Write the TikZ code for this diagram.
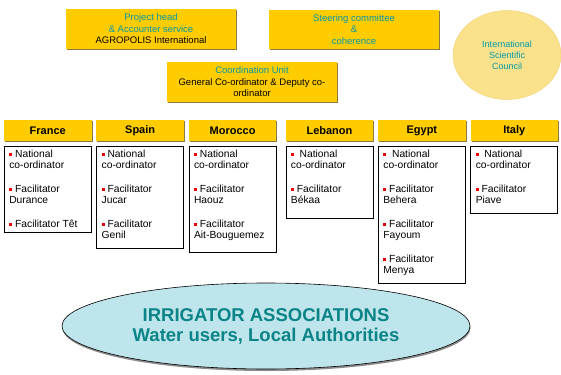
\documentclass[tikz,border=0pt]{standalone}
\usepackage{fontspec}
\setmainfont{Liberation Sans}
\usepackage{xcolor}
\usepackage{tikz}
\usetikzlibrary{
  positioning,
  shapes.geometric,
  shadows
}
\definecolor{irGold}{HTML}{FFCC00}
\definecolor{irShade}{HTML}{8C7A40}
\definecolor{irTeal}{HTML}{0099A8}
\definecolor{irDeep}{HTML}{0A8486}
\definecolor{irSky}{HTML}{BEE5EB}
\definecolor{irCream}{HTML}{FAE28C}
\definecolor{irRim}{HTML}{EFD06A}
\definecolor{irRed}{HTML}{E8000B}
\newcommand{\redbul}{\textcolor{irRed}{\rule[1.5pt]{3pt}{3pt}}\ }
\newcommand{\celltext}[2]{\parbox[t][#1][t]{77pt}{\raggedright #2}}
\tikzset{
  irshadow/.style={drop shadow={shadow xshift=1pt, shadow yshift=-1.5pt, fill=irShade, opacity=1}},
  headbox/.style={
    fill=irGold, irshadow, minimum width=170pt, minimum height=40pt,
    inner sep=1pt, align=center, font=\fontsize{9.5}{11.5}\selectfont
  },
  ctry/.style={
    fill=irGold, irshadow, minimum width=87.5pt, minimum height=21pt,
    inner sep=0pt, font=\fontsize{11}{13}\selectfont\bfseries
  },
  cbox/.style={
    draw=black, line width=0.8pt, fill=white, anchor=north,
    inner xsep=5pt, inner ysep=3pt, font=\fontsize{10.3}{11}\selectfont
  },
  council/.style={
    ellipse, fill=irCream, draw=irRim, minimum width=108pt, minimum height=89pt,
    inner sep=0pt, align=center, text=irTeal, font=\fontsize{9}{11}\selectfont
  },
  users/.style={
    ellipse, fill=irSky, draw=black, line width=0.6pt,
    drop shadow={shadow xshift=0.5pt, shadow yshift=-2pt, fill=black!45, opacity=1},
    minimum width=408pt, minimum height=86pt, align=center,
    text=irDeep, font=\fontsize{18.5}{20}\selectfont\bfseries
  }
}

\begin{document}
\begin{tikzpicture}[x=1pt, y=-1pt]
  \useasboundingbox (0,0) rectangle (561,374);
  % management level
  \node[headbox] (head) at (151,29) {\textcolor{irTeal}{Project head}\\\textcolor{irTeal}{\& Accounter service}\\AGROPOLIS International};
  \node[headbox, minimum height=39pt, text=irTeal] (steer) at (354,29.5) {Steering committee\\\&\\coherence};
  \node[headbox] (coord) at (252,82) {\textcolor{irTeal}{Coordination Unit}\\General Co-ordinator \& Deputy co-\\ordinator};
  \node[council] (isc) at (507,55) {International\\Scientific\\Council};
  % country headers
  \node[ctry] (fr) at (47.75,130.5) {France};
  \node[ctry, right=4.5pt of fr] (es) {Spain};
  \node[ctry, right=4.5pt of es] (ma) {Morocco};
  \node[ctry, right=9pt of ma] (lb) {Lebanon};
  \node[ctry, right=4.5pt of lb] (eg) {Egypt};
  \node[ctry, right=4.5pt of eg] (it) {Italy};
  % country teams
  \node[cbox, below=5pt of fr] (frt) {\celltext{80pt}{\redbul National\\co-ordinator\\[13pt]\redbul Facilitator\\Durance\\[13pt]\redbul Facilitator Têt}};
  \node[cbox, below=5pt of es] (est) {\celltext{96pt}{\redbul National\\co-ordinator\\[13pt]\redbul Facilitator\\Jucar\\[13pt]\redbul Facilitator\\Genil}};
  \node[cbox, below=5pt of ma] (mat) {\celltext{100pt}{\redbul National\\co-ordinator\\[13pt]\redbul Facilitator\\Haouz\\[13pt]\redbul Facilitator\\Ait-Bouguemez}};
  \node[cbox, below=5pt of lb] (lbt) {\celltext{66pt}{\redbul\ National\\co-ordinator\\[13pt]\redbul Facilitator\\Békaa}};
  \node[cbox, below=5pt of eg] (egt) {\celltext{131pt}{\redbul\ National\\co-ordinator\\[13pt]\redbul Facilitator\\Behera\\[13pt]\redbul Facilitator\\Fayoum\\[13pt]\redbul Facilitator\\Menya}};
  \node[cbox, below=5pt of it] (itt) {\celltext{61pt}{\redbul\ National\\co-ordinator\\[13pt]\redbul Facilitator\\Piave}};
  % base
  \node[users] (assoc) at (266,326) {IRRIGATOR ASSOCIATIONS\\Water users, Local Authorities};
\end{tikzpicture}
\end{document}
